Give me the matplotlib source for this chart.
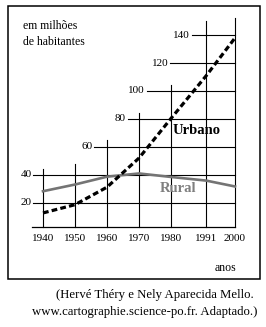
import matplotlib
matplotlib.use("Agg")
import matplotlib.pyplot as plt
from matplotlib.patches import Rectangle

plt.rcParams['font.family'] = ['Liberation Serif', 'DejaVu Serif']

# dados (milhoes de habitantes)
anos = [1940, 1950, 1960, 1970, 1980, 1991, 2000]
urbano = [12.9, 18.8, 31.3, 52.1, 80.4, 110.9, 137.9]
rural = [28.4, 33.2, 38.8, 41.1, 38.6, 36.0, 31.8]

# grade em "escada"
niveis = [20, 40, 60, 80, 100, 120, 140]
inicio_niveis = [1937, 1937, 1956, 1966.5, 1972.5, 1979.7, 1986.6]
topo_anos = [44, 48, 65, 84, 104, 150, 152]
base = 2.9

W, H = 266, 327
fig = plt.figure(figsize=(W / 100, H / 100), dpi=100)
ax = fig.add_axes([0, 0, 1, 1])
ax.axis('off')

# escala: 1940 -> x=43px, 3.2 px/ano ; 20 -> y=203px, 1.4 px/unidade
ax.set_xlim(1940 - 43 / 3.2, 1940 + (W - 43) / 3.2)
ax.set_ylim(20 - (H - 203) / 1.4, 20 + 203 / 1.4)

# moldura
fig.patches.append(Rectangle((8 / W, 1 - 279 / H), 252 / W, 273 / H,
                             transform=fig.transFigure, fill=False,
                             lw=1.1, ec='black'))

# linhas de grade
for a, t in zip(anos, topo_anos):
    ax.plot([a, a], [base, t], color='black', lw=0.8, zorder=1)
for v, s in zip(niveis, inicio_niveis):
    ax.plot([s, 2000], [v, v], color='black', lw=0.8, zorder=1)
    ax.text(s - 0.6, v, str(v), ha='right', va='center', fontsize=8)
ax.plot([1936.6, 2000], [base, base], color='black', lw=0.9, zorder=1)

for a in anos:
    ax.text(a, -5.5, str(a), ha='center', va='center', fontsize=8)

# series
ax.plot(anos, rural, color='#747474', lw=1.9, zorder=2)
ax.plot(anos, urbano, color='black', lw=2.3, dashes=(1.8, 1.0), zorder=3)

ax.text(1980.6, 72, 'Urbano', fontsize=10.5, fontweight='bold',
        ha='left', va='center', color='black')
ax.text(1976.5, 30, 'Rural', fontsize=10.5, fontweight='bold',
        ha='left', va='center', color='#7f7f7f')

fig.text(23 / W, 1 - 26 / H, 'em milhões', fontsize=8.5, va='center')
fig.text(23 / W, 1 - 42 / H, 'de habitantes', fontsize=8.5, va='center')
fig.text(215 / W, 1 - 268 / H, 'anos', fontsize=8.5, va='center')

fig.text(254 / W, 1 - 295 / H, '(Hervé Théry e Nely Aparecida Mello.',
         fontsize=9.2, ha='right', va='center')
fig.text(257 / W, 1 - 312 / H, 'www.cartographie.science-po.fr. Adaptado.)',
         fontsize=9.2, ha='right', va='center')

fig.savefig('out.png', dpi=100)
